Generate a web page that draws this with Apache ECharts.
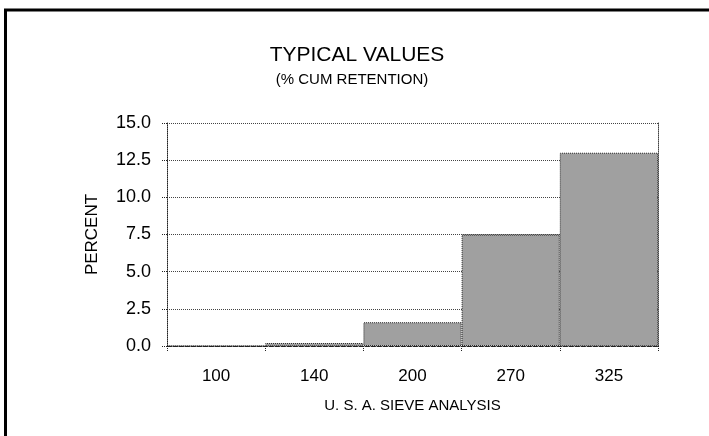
<!DOCTYPE html>
<html>
<head>
<meta charset="utf-8">
<script src="https://cdn.jsdelivr.net/npm/echarts@6/dist/echarts.min.js"></script>
<style>
  html, body { margin: 0; padding: 0; background: #fff; }
  #main { width: 709px; height: 436px; }
</style>
</head>
<body>
<div id="main"></div>
<script>
// data
var sieves = ['100', '140', '200', '270', '325'];
var percent = [0, 0.2, 1.6, 7.5, 13.0];
var yTicks = [0, 2.5, 5, 7.5, 10, 12.5, 15];

var FONT = '"Liberation Sans", Arial, sans-serif';

var chart = echarts.init(document.getElementById('main'));

var option = {
    backgroundColor: '#fff',
    animation: false,
    textStyle: { fontFamily: FONT },
    graphic: [
        // frame, only top and left edges show
        { type: 'line', shape: { x1: 4, y1: 10, x2: 709, y2: 10 }, style: { stroke: '#000', lineWidth: 3 } },
        { type: 'line', shape: { x1: 5.5, y1: 9, x2: 5.5, y2: 436 }, style: { stroke: '#000', lineWidth: 3 } },
        { type: 'text', x: 357, y: 55, style: { text: 'TYPICAL VALUES', font: '21px ' + FONT, fill: '#000', textAlign: 'center', textVerticalAlign: 'middle' } },
        { type: 'text', x: 352, y: 80, style: { text: '(% CUM RETENTION)', font: '15px ' + FONT, fill: '#000', textAlign: 'center', textVerticalAlign: 'middle' } }
    ],
    grid: { left: 167, right: 51, top: 123, bottom: 90 },
    xAxis: {
        type: 'category',
        data: sieves,
        name: 'U. S. A. SIEVE ANALYSIS',
        nameLocation: 'middle',
        nameGap: 52,
        nameTextStyle: { fontSize: 15, color: '#000', fontFamily: FONT },
        axisLine: { lineStyle: { color: '#222', type: 'dashed', width: 1 } },
        axisTick: { show: true, length: 6, lineStyle: { color: '#222', type: 'dotted' } },
        axisLabel: { fontSize: 17, color: '#000', margin: 22, fontFamily: FONT },
        splitLine: { show: false }
    },
    yAxis: [{
        type: 'value',
        min: yTicks[0],
        max: yTicks[yTicks.length - 1],
        interval: 2.5,
        name: 'PERCENT',
        nameLocation: 'middle',
        nameGap: 66,
        nameTextStyle: { fontSize: 17, color: '#000', fontFamily: FONT },
        axisLine: { show: true, lineStyle: { color: '#222', type: 'dotted', width: 1 } },
        axisTick: { show: true, length: 6, lineStyle: { color: '#222', type: 'dotted' } },
        axisLabel: {
            fontSize: 18, color: '#000', margin: 16, fontFamily: FONT,
            formatter: function (v) { return v.toFixed(1); }
        },
        splitLine: { show: true, lineStyle: { color: '#444', type: 'dotted', width: 1 } }
    }, {
        // right border of the plot
        type: 'value',
        position: 'right',
        min: yTicks[0],
        max: yTicks[yTicks.length - 1],
        interval: 2.5,
        axisLine: { show: true, lineStyle: { color: '#444', type: 'dotted', width: 1 } },
        axisTick: { show: false },
        axisLabel: { show: false },
        splitLine: { show: false }
    }],
    series: [{
        type: 'bar',
        data: percent,
        barWidth: '100%',
        barCategoryGap: 0,
        itemStyle: {
            color: '#a0a0a0',
            borderColor: '#222',
            borderWidth: 1,
            borderType: 'dotted'
        }
    }]
};

chart.setOption(option);
</script>
</body>
</html>
